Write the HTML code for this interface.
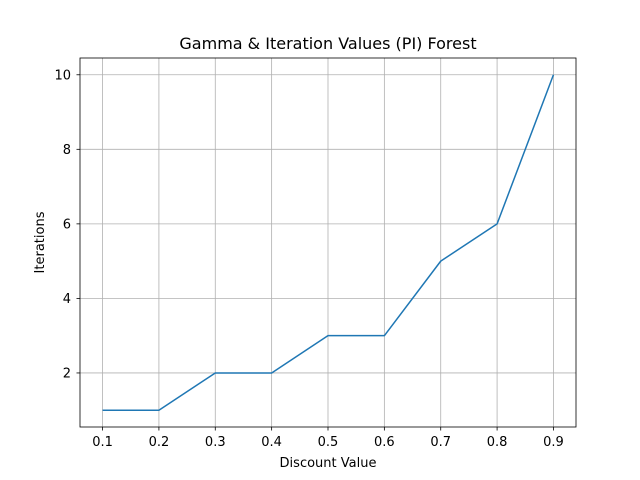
<!DOCTYPE html>
<html><head><meta charset="utf-8"><style>
body{margin:0;background:#fff;}
svg{display:block;font-family:"DejaVu Sans","Liberation Sans",sans-serif;}
</style></head><body>
<svg id="chart" width="640" height="480">
<rect width="640" height="480" fill="#fff"/>
<g id="grid"></g>
<g id="ticks"></g>
<path id="line" fill="none" stroke="#1f77b4" stroke-width="1.5" stroke-linejoin="round"/>
<rect x="80" y="58" width="496" height="369" fill="none" stroke="#000" stroke-width="0.8"/>
<text x="328" y="49" text-anchor="middle" font-size="16">Gamma &amp; Iteration Values (PI) Forest</text>
<text x="328" y="467" text-anchor="middle" font-size="13">Discount Value</text>
<text transform="translate(44,242.5) rotate(-90)" text-anchor="middle" font-size="13">Iterations</text>
</svg>
<script>
const gammas=[0.1,0.2,0.3,0.4,0.5,0.6,0.7,0.8,0.9];
const iterations=[1,1,2,2,3,3,5,6,10];
const xTicks=[0.1,0.2,0.3,0.4,0.5,0.6,0.7,0.8,0.9];
const yTicks=[2,4,6,8,10];
const L=80,R=576,T=58,B=427;
const xmin=Math.min(...gammas),xmax=Math.max(...gammas),xm=(xmax-xmin)*0.05;
const ymin=Math.min(...iterations),ymax=Math.max(...iterations),ym=(ymax-ymin)*0.05;
const sx=v=>L+(v-(xmin-xm))/((xmax+xm)-(xmin-xm))*(R-L);
const sy=v=>B-(v-(ymin-ym))/((ymax+ym)-(ymin-ym))*(B-T);
const NS="http://www.w3.org/2000/svg";
const g=document.getElementById('grid'),tk=document.getElementById('ticks');
function mk(tag,attrs,parent){const e=document.createElementNS(NS,tag);for(const k in attrs)e.setAttribute(k,attrs[k]);parent.appendChild(e);return e;}
xTicks.forEach(v=>{const x=sx(v);
 const gl=mk('line',{x1:x,x2:x,y1:T,y2:B,stroke:'#b0b0b0','stroke-width':0.8},g);
 
 
 mk('line',{x1:x,x2:x,y1:B,y2:B+3.5,stroke:'#000','stroke-width':0.8},tk);
 const t=mk('text',{x:x,y:B+19,'text-anchor':'middle','font-size':13},tk);t.textContent=v.toFixed(1);
 
 
});
yTicks.forEach(v=>{const y=sy(v);
 const gl=mk('line',{x1:L,x2:R,y1:y,y2:y,stroke:'#b0b0b0','stroke-width':0.8},g);
 
 
 mk('line',{x1:L-3.5,x2:L,y1:y,y2:y,stroke:'#000','stroke-width':0.8},tk);
 const t=mk('text',{x:L-9,y:y+4.5,'text-anchor':'end','font-size':13},tk);t.textContent=v;
 
 
});
document.getElementById('line').setAttribute('d',gammas.map((v,i)=>(i?'L':'M')+sx(v)+','+sy(iterations[i])).join(''));
</script>
</body></html>
